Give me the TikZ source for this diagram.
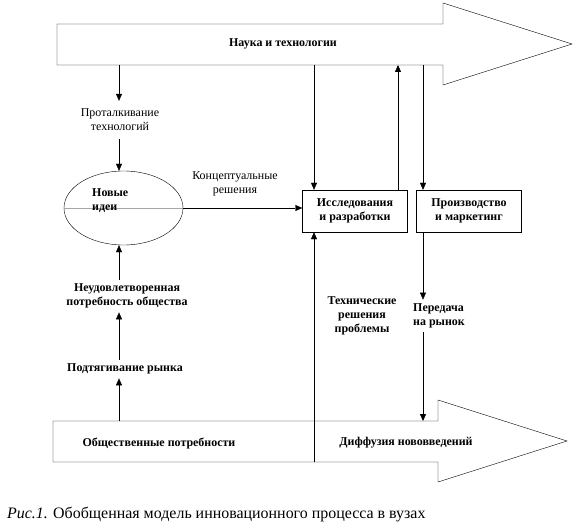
\documentclass[tikz,border=0pt]{standalone}
\usepackage{fontspec}
\setmainfont{Liberation Serif}
\usetikzlibrary{arrows.meta,shapes.geometric,positioning}

\begin{document}
\begin{tikzpicture}[x=1bp,y=-1bp,
		arr/.style={-{Triangle[length=7bp,width=6bp]}},
		lbl/.style={align=center,inner xsep=2bp,inner ysep=4bp,font=\fontsize{12}{14}\selectfont},
		blbl/.style={lbl,font=\fontsize{12}{14}\selectfont\bfseries},
		blk/.style={draw,blbl,minimum width=105bp,minimum height=42bp}]
	\useasboundingbox (0,0) rectangle (580,530);
	\draw (57,24) -- (443,24) -- (443,3) -- (572,44) -- (443,85) -- (443,65) -- (57,65) -- cycle;
	\draw (53,421) -- (438,421) -- (438,400) -- (567,441) -- (438,482) -- (438,462) -- (53,462) -- cycle;
	\node[blbl] (sci) at (283,44) {Наука и технологии};
	\node[blbl] (soc) at (159,443) {Общественные потребности};
	\node[blbl] (dif) at (406,443) {Диффузия нововведений};

	\node[draw,ellipse,minimum width=119bp,minimum height=74bp,inner sep=0] (ideas) at (123.5,208) {};
	\draw[gray!70] (ideas.west) -- (ideas.east);
	\node[blbl,align=left,anchor=west] (ideastxt) at (90,201) {Новые\\идеи};
	\node[blk] (rd) at (355,211) {Исследования\\и разработки};
	\node[blk] (pm) at (469,211) {Производство\\и маркетинг};

	\node[lbl,inner ysep=8bp] (push) at (120,120) {Проталкивание\\технологий};
	\node[lbl] (concept) at (235,184) {Концептуальные\\решения};
	\node[blbl] (need) at (127,296) {Неудовлетворенная\\потребность общества};
	\node[blbl] (pull) at (125,369) {Подтягивание рынка};
	\node[blbl] (tech) at (362,316) {Технические\\решения\\проблемы};
	\node[blbl,align=left] (market) at (439,316) {Передача\\на рынок};
	\node[anchor=west,inner sep=0,font=\fontsize{16}{18}\selectfont] (cap) at (7,515) {\textit{Рис.1.} Обобщенная модель инновационного процесса в вузах};

	\coordinate (sciA) at (119,65);
	\coordinate (sciC) at (314,65);
	\coordinate (sciD) at (398,65);
	\coordinate (sciE) at (423,65);
	\coordinate (socA) at (119,421);
	\coordinate (socB) at (314,462);
	\coordinate (difA) at (423,421);

	\draw[arr] (sciA) -- (sciA |- push.north);
	\draw[arr] (sciA |- push.south) -- (sciA |- ideas.north);
	\draw[arr] (ideas.east) -- (ideas.east -| rd.west);
	\draw[arr] (sciC) -- (sciC |- rd.north);
	\draw[arr] (sciD |- rd.north) -- (sciD);
	\draw[arr] (sciE) -- (sciE |- pm.north);
	\draw[arr] (sciE |- pm.south) -- (sciE |- market.north);
	\draw[arr] (sciE |- market.south) -- (difA);
	\draw[arr] (socB) -- (socB |- rd.south);
	\draw[arr] (socA) -- (socA |- pull.south);
	\draw[arr] (socA |- pull.north) -- (socA |- need.south);
	\draw[arr] (socA |- need.north) -- (socA |- ideas.south);
\end{tikzpicture}
\end{document}
